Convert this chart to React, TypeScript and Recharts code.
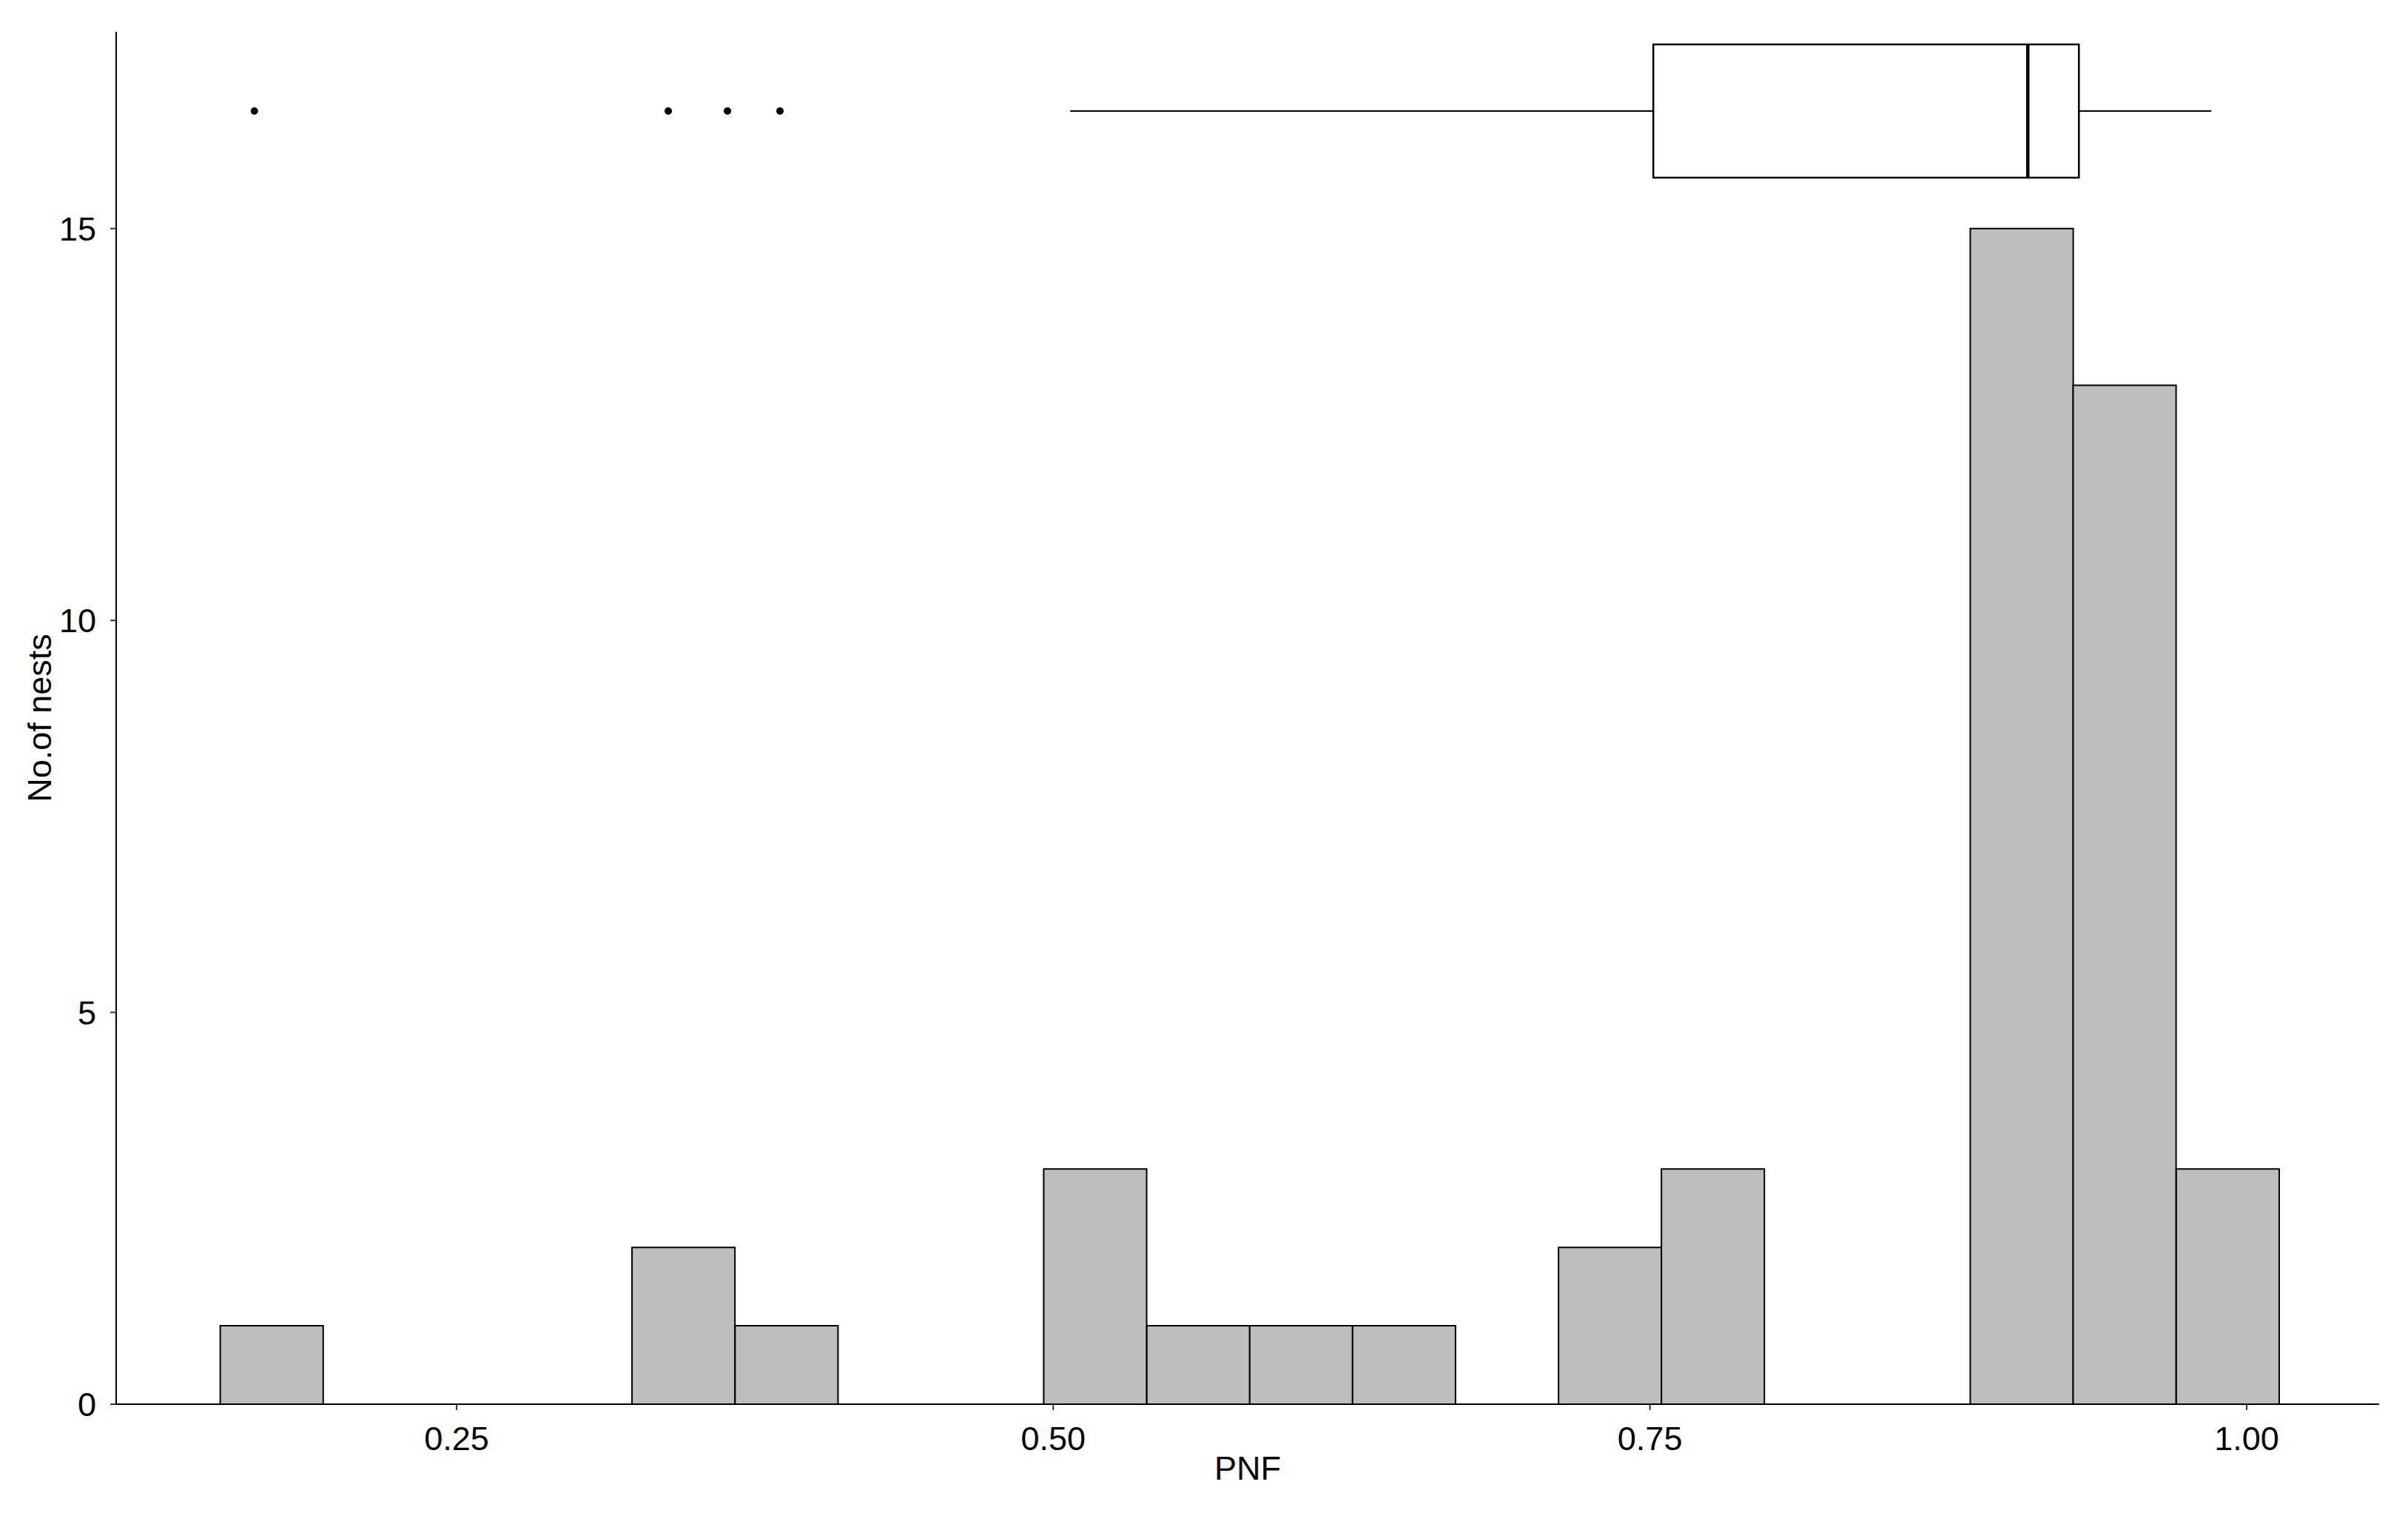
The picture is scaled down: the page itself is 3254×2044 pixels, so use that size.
import { ComposedChart, XAxis, YAxis, ReferenceArea, ReferenceLine, Scatter } from 'recharts';

// histogram bins (left edges, PNF) and counts
const binStarts = [
  0.151, 0.1941, 0.2373, 0.2804, 0.3235, 0.3667, 0.4098, 0.4529, 0.496, 0.5392,
  0.5823, 0.6254, 0.6686, 0.7117, 0.7548, 0.7979, 0.8411, 0.8842, 0.9273, 0.9705,
];
const binWidth = 0.04313;
const counts = [1, 0, 0, 0, 2, 1, 0, 0, 3, 1, 1, 1, 0, 2, 3, 0, 0, 15, 13, 3];

// boxplot summary of PNF
const whiskerLow = 0.5071;
const q1 = 0.7514;
const median = 0.9083;
const q3 = 0.9297;
const whiskerHigh = 0.9852;
const outliers = [0.1653, 0.3387, 0.3635, 0.3855];

// where the boxplot sits on the count axis
const boxMid = 16.5;
const boxBottom = 15.65;
const boxTop = 17.35;

const xTicks = [0.25, 0.5, 0.75, 1.0];
const yTicks = [0, 5, 10, 15];

const font = '"Liberation Sans", Arial, sans-serif';
const tickStyle = { fill: '#000', fontSize: 45, fontFamily: font };

export default function App() {
  const outlierData = outliers.map((x) => ({ x, y: boxMid }));

  return (
    <div style={{ position: 'absolute', left: 0, top: 0, background: '#fff' }}>
      <ComposedChart
        width={3254}
        height={2044}
        margin={{ top: 43, right: 39, bottom: 45, left: 0 }}
      >
        <XAxis
          type="number"
          dataKey="x"
          domain={[0.1074, 1.0555]}
          allowDataOverflow
          ticks={xTicks}
          tickFormatter={(v: number) => v.toFixed(2)}
          tick={tickStyle}
          tickSize={8}
          tickMargin={22}
          tickLine={{ stroke: '#333', strokeWidth: 2 }}
          axisLine={{ stroke: '#000', strokeWidth: 2 }}
          height={102}
          label={{
            value: 'PNF',
            position: 'insideBottom',
            offset: 0,
            style: { fill: '#000', fontSize: 45, fontFamily: font },
          }}
        />
        <YAxis
          type="number"
          dataKey="y"
          domain={[0, 17.51]}
          allowDataOverflow
          ticks={yTicks}
          tick={tickStyle}
          tickSize={8}
          tickMargin={19}
          tickLine={{ stroke: '#333', strokeWidth: 2 }}
          axisLine={{ stroke: '#000', strokeWidth: 2 }}
          width={157}
          label={{
            value: 'No.of nests',
            angle: -90,
            position: 'insideLeft',
            offset: 53,
            style: { fill: '#000', fontSize: 45, fontFamily: font, textAnchor: 'middle' },
          }}
        />

        {counts.map((c, i) =>
          c > 0 ? (
            <ReferenceArea
              key={`bin-${i}`}
              x1={binStarts[i]}
              x2={binStarts[i] + binWidth}
              y1={0}
              y2={c}
              fill="#BEBEBE"
              fillOpacity={1}
              stroke="#000"
              strokeWidth={2}
            />
          ) : null
        )}

        <ReferenceLine
          segment={[{ x: whiskerLow, y: boxMid }, { x: q1, y: boxMid }]}
          stroke="#000"
          strokeWidth={2}
        />
        <ReferenceLine
          segment={[{ x: q3, y: boxMid }, { x: whiskerHigh, y: boxMid }]}
          stroke="#000"
          strokeWidth={2}
        />
        <ReferenceArea
          x1={q1}
          x2={q3}
          y1={boxBottom}
          y2={boxTop}
          fill="#fff"
          fillOpacity={1}
          stroke="#000"
          strokeWidth={2.5}
        />
        <ReferenceLine
          segment={[{ x: median, y: boxBottom }, { x: median, y: boxTop }]}
          stroke="#000"
          strokeWidth={4.5}
        />
        <Scatter
          data={outlierData}
          dataKey="y"
          fill="#000"
          isAnimationActive={false}
          shape={(p: any) => <circle cx={p.cx} cy={p.cy} r={5} fill="#000" />}
        />
      </ComposedChart>
    </div>
  );
}
